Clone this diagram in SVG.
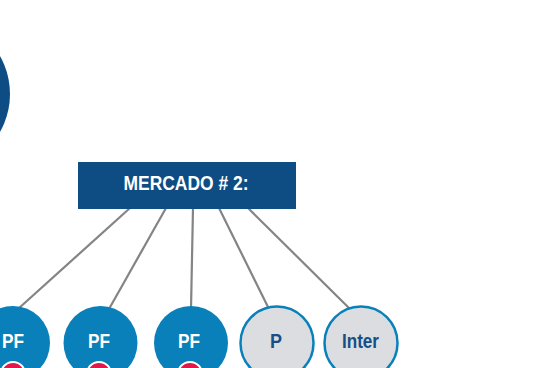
<svg xmlns="http://www.w3.org/2000/svg" width="541" height="368" viewBox="0 0 541 368">
<style>
.pf{fill:#0A80BA}
.gr{fill:#DCDDE0;stroke:#0A80BA;stroke-width:2.5}
.red{fill:#E2184B;stroke:#ffffff;stroke-width:2}
.t{font-family:"Liberation Sans",Arial,sans-serif;font-weight:bold;text-anchor:middle}
.tw{fill:#ffffff}
.tb{fill:#164F86}
.ln{stroke:#848484;stroke-width:2.2;fill:none}
</style>
<rect width="541" height="368" fill="#ffffff"/>
<g id="bigcircle"><circle cx="-67" cy="94" r="77" fill="#0E4C84"/></g>
<g id="connectors">
<line class="ln" x1="130" y1="208" x2="18" y2="309"/>
<line class="ln" x1="166" y1="208" x2="109" y2="309"/>
<line class="ln" x1="193" y1="208" x2="191" y2="309"/>
<line class="ln" x1="219" y1="208" x2="269" y2="309"/>
<line class="ln" x1="248" y1="208" x2="350" y2="309"/>
</g>
<g id="mercado">
<rect x="78" y="162" width="218" height="47" fill="#0E4C84"/>
<text class="t tw" x="186" y="190" font-size="20" textLength="125" lengthAdjust="spacingAndGlyphs">MERCADO # 2:</text>
</g>
<g id="pf1">
<circle class="pf" cx="13" cy="343" r="37"/>
<circle class="red" cx="13" cy="374" r="12"/>
<text class="t tw" x="13" y="347.5" font-size="20" textLength="22" lengthAdjust="spacingAndGlyphs">PF</text>
</g>
<g id="pf2">
<circle class="pf" cx="100.5" cy="343" r="37"/>
<circle class="red" cx="99" cy="374" r="12"/>
<text class="t tw" x="99" y="347.5" font-size="20" textLength="22" lengthAdjust="spacingAndGlyphs">PF</text>
</g>
<g id="pf3">
<circle class="pf" cx="191" cy="343" r="37"/>
<circle class="red" cx="190" cy="374" r="12"/>
<text class="t tw" x="189" y="347.5" font-size="20" textLength="22" lengthAdjust="spacingAndGlyphs">PF</text>
</g>
<g id="p">
<circle class="gr" cx="277" cy="343" r="36.5"/>
<text class="t tb" x="276" y="347.5" font-size="20" textLength="12" lengthAdjust="spacingAndGlyphs">P</text>
</g>
<g id="inter">
<circle class="gr" cx="361" cy="343" r="36.5"/>
<text class="t tb" x="360.5" y="347.5" font-size="20" textLength="37" lengthAdjust="spacingAndGlyphs">Inter</text>
</g>
</svg>
